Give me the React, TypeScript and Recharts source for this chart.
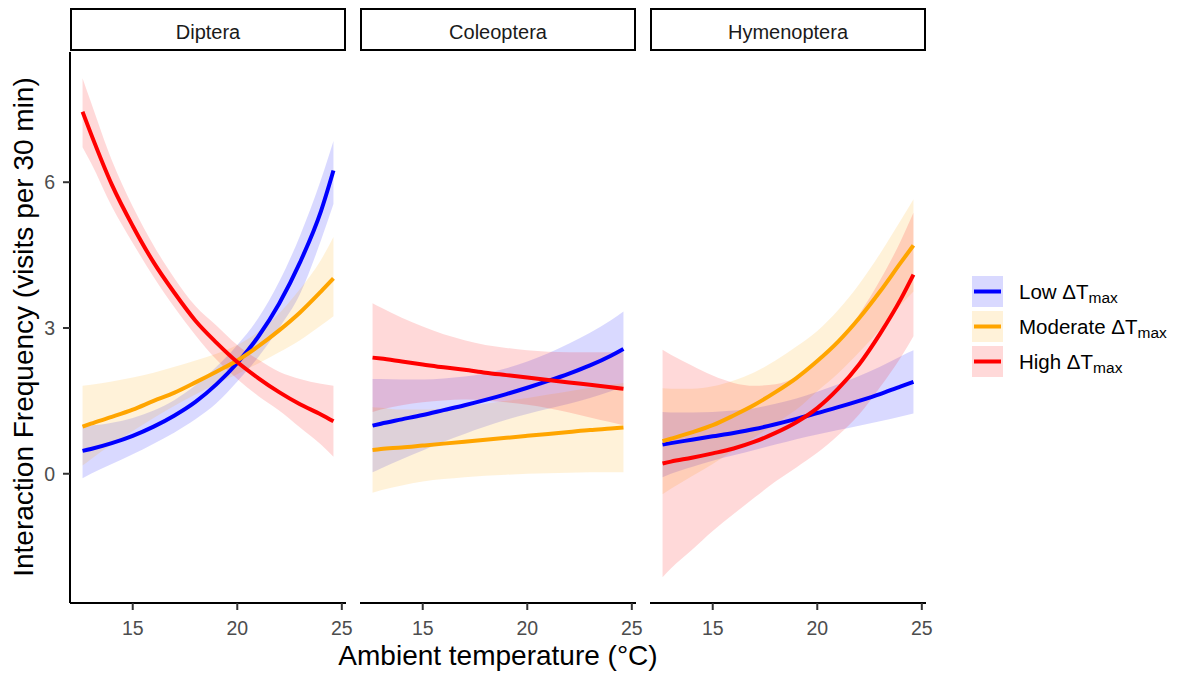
import React from 'react'
import { ComposedChart, Area, Line, XAxis, YAxis } from 'recharts'

// ambient temperature grid (°C) shared by all panels
const temps = [12.6, 13, 14, 15, 16, 17, 18, 19, 20, 21, 22, 23, 24, 24.6]

// Diptera
const dipLowFit = [0.47, 0.51, 0.63, 0.78, 0.97, 1.2, 1.48, 1.84, 2.28, 2.82, 3.5, 4.35, 5.4, 6.24]
const dipLowLo = [-0.09, 0.0, 0.2, 0.4, 0.62, 0.85, 1.12, 1.45, 1.9, 2.4, 3.0, 3.7, 4.8, 5.55]
const dipLowHi = [1.0, 1.0, 1.05, 1.15, 1.3, 1.52, 1.82, 2.2, 2.65, 3.2, 3.95, 4.9, 6.05, 6.85]
const dipModFit = [0.97, 1.03, 1.17, 1.32, 1.5, 1.67, 1.88, 2.1, 2.33, 2.62, 2.95, 3.32, 3.75, 4.02]
const dipModLo = [0.17, 0.3, 0.6, 0.88, 1.15, 1.4, 1.63, 1.85, 2.05, 2.27, 2.5, 2.75, 3.05, 3.24]
const dipModHi = [1.81, 1.83, 1.9, 1.98, 2.08, 2.2, 2.33, 2.47, 2.65, 2.92, 3.3, 3.8, 4.4, 4.87]
const dipHighFit = [7.45, 7.0, 5.95, 5.1, 4.35, 3.72, 3.15, 2.7, 2.3, 1.97, 1.68, 1.43, 1.22, 1.08]
const dipHighLo = [6.72, 6.4, 5.5, 4.75, 4.05, 3.42, 2.85, 2.35, 1.95, 1.6, 1.3, 0.95, 0.6, 0.35]
const dipHighHi = [8.14, 7.65, 6.45, 5.5, 4.7, 4.02, 3.45, 3.05, 2.65, 2.35, 2.1, 1.95, 1.85, 1.81]

// Coleoptera
const colLowFit = [0.99, 1.03, 1.12, 1.21, 1.31, 1.41, 1.52, 1.64, 1.77, 1.91, 2.06, 2.23, 2.43, 2.57]
const colLowLo = [0.03, 0.11, 0.3, 0.48, 0.66, 0.82, 0.97, 1.11, 1.23, 1.34, 1.44, 1.56, 1.7, 1.8]
const colLowHi = [1.95, 1.95, 1.94, 1.94, 1.96, 2.0, 2.07, 2.17, 2.31, 2.48, 2.68, 2.9, 3.16, 3.34]
const colModFit = [0.49, 0.51, 0.54, 0.58, 0.62, 0.66, 0.7, 0.74, 0.78, 0.82, 0.86, 0.9, 0.93, 0.95]
const colModLo = [-0.39, -0.34, -0.24, -0.16, -0.11, -0.07, -0.04, -0.02, 0.0, 0.01, 0.02, 0.03, 0.03, 0.03]
const colModHi = [1.37, 1.36, 1.32, 1.32, 1.35, 1.39, 1.44, 1.5, 1.56, 1.63, 1.7, 1.77, 1.83, 1.87]
const colHighFit = [2.39, 2.37, 2.31, 2.25, 2.19, 2.14, 2.08, 2.03, 1.98, 1.93, 1.88, 1.83, 1.78, 1.75]
const colHighLo = [1.27, 1.32, 1.41, 1.47, 1.51, 1.53, 1.51, 1.47, 1.42, 1.35, 1.26, 1.16, 1.06, 1.0]
const colHighHi = [3.51, 3.42, 3.21, 3.03, 2.87, 2.75, 2.65, 2.59, 2.54, 2.51, 2.5, 2.5, 2.5, 2.5]

// Hymenoptera
const hymLowFit = [0.6, 0.63, 0.7, 0.77, 0.84, 0.92, 1.02, 1.13, 1.25, 1.37, 1.5, 1.64, 1.8, 1.89]
const hymLowLo = [-0.07, 0.0, 0.14, 0.27, 0.38, 0.49, 0.6, 0.71, 0.81, 0.9, 0.99, 1.08, 1.18, 1.24]
const hymLowHi = [1.27, 1.26, 1.26, 1.27, 1.3, 1.35, 1.44, 1.55, 1.69, 1.84, 2.01, 2.2, 2.42, 2.54]
const hymModFit = [0.67, 0.72, 0.85, 1.0, 1.2, 1.42, 1.68, 1.97, 2.32, 2.72, 3.2, 3.75, 4.35, 4.7]
const hymModLo = [-0.42, -0.31, -0.05, 0.2, 0.48, 0.75, 1.03, 1.32, 1.7, 2.07, 2.5, 2.97, 3.48, 3.75]
const hymModHi = [1.76, 1.75, 1.75, 1.8, 1.92, 2.09, 2.33, 2.62, 2.94, 3.37, 3.9, 4.53, 5.22, 5.65]
const hymHighFit = [0.21, 0.25, 0.33, 0.42, 0.52, 0.66, 0.84, 1.06, 1.35, 1.75, 2.25, 2.88, 3.6, 4.1]
const hymHighLo = [-2.13, -1.95, -1.57, -1.18, -0.83, -0.49, -0.16, 0.13, 0.43, 0.79, 1.22, 1.78, 2.4, 2.83]
const hymHighHi = [2.55, 2.45, 2.23, 2.02, 1.87, 1.81, 1.84, 1.99, 2.27, 2.71, 3.28, 3.98, 4.8, 5.37]

const facets = ['Diptera', 'Coleoptera', 'Hymenoptera']
const xTicks = [15, 20, 25]
const yTicks = [0, 3, 6]

const LOW = '#0000FF'
const MOD = '#FFA500'
const HIGH = '#FF0000'

const PANEL_W = 276
const PANEL_H = 551
const PANEL_TOP = 52
const RIGHT_PAD = 14
const panelLefts = [70, 360, 650]
const FONT = '"Liberation Sans", Arial, Helvetica, sans-serif'

function buildRows(
  lowFit: number[], lowLo: number[], lowHi: number[],
  modFit: number[], modLo: number[], modHi: number[],
  highFit: number[], highLo: number[], highHi: number[]
) {
  return temps.map((t, i) => ({
    t,
    lowFit: lowFit[i],
    lowBand: [lowLo[i], lowHi[i]],
    modFit: modFit[i],
    modBand: [modLo[i], modHi[i]],
    highFit: highFit[i],
    highBand: [highLo[i], highHi[i]],
  }))
}

const panelRows = [
  buildRows(dipLowFit, dipLowLo, dipLowHi, dipModFit, dipModLo, dipModHi, dipHighFit, dipHighLo, dipHighHi),
  buildRows(colLowFit, colLowLo, colLowHi, colModFit, colModLo, colModHi, colHighFit, colHighLo, colHighHi),
  buildRows(hymLowFit, hymLowLo, hymLowHi, hymModFit, hymModLo, hymModHi, hymHighFit, hymHighLo, hymHighHi),
]

const tickStyle = { fill: '#4D4D4D', fontSize: 19.5, fontFamily: FONT }

function Panel({ rows, left, showY }: { rows: any[]; left: number; showY: boolean }) {
  const yW = showY ? 70 : 0
  return (
    <div style={{ position: 'absolute', left: left - yW, top: PANEL_TOP }}>
      <ComposedChart
        width={PANEL_W + yW + RIGHT_PAD}
        height={PANEL_H + 45}
        data={rows}
        margin={{ top: 0, right: RIGHT_PAD, bottom: 0, left: 0 }}
      >
        <XAxis
          dataKey="t"
          type="number"
          domain={[12, 25.2]}
          ticks={xTicks}
          interval={0}
          height={45}
          tick={tickStyle}
          tickSize={7}
          tickMargin={11}
          axisLine={{ stroke: '#000', strokeWidth: 2 }}
          tickLine={{ stroke: '#333', strokeWidth: 2 }}
        />
        <YAxis
          type="number"
          domain={[-2.66, 8.68]}
          ticks={yTicks}
          interval={0}
          hide={!showY}
          width={yW}
          tick={tickStyle}
          tickSize={7}
          tickMargin={8}
          axisLine={{ stroke: '#000', strokeWidth: 2 }}
          tickLine={{ stroke: '#333', strokeWidth: 2 }}
        />
        <Area dataKey="lowBand" type="monotone" stroke="none" fill={LOW} fillOpacity={0.15} isAnimationActive={false} activeDot={false} />
        <Area dataKey="modBand" type="monotone" stroke="none" fill={MOD} fillOpacity={0.15} isAnimationActive={false} activeDot={false} />
        <Area dataKey="highBand" type="monotone" stroke="none" fill={HIGH} fillOpacity={0.15} isAnimationActive={false} activeDot={false} />
        <Line dataKey="lowFit" type="monotone" stroke={LOW} strokeWidth={4} dot={false} isAnimationActive={false} activeDot={false} />
        <Line dataKey="modFit" type="monotone" stroke={MOD} strokeWidth={4} dot={false} isAnimationActive={false} activeDot={false} />
        <Line dataKey="highFit" type="monotone" stroke={HIGH} strokeWidth={4} dot={false} isAnimationActive={false} activeDot={false} />
      </ComposedChart>
    </div>
  )
}

const legendItems = [
  { label: 'Low', color: LOW },
  { label: 'Moderate', color: MOD },
  { label: 'High', color: HIGH },
]

export default function App() {
  return (
    <div style={{ position: 'absolute', left: 0, top: 0, width: 1189, height: 675, background: '#fff', fontFamily: FONT }}>
      <svg width={1189} height={675} style={{ position: 'absolute', left: 0, top: 0 }}>
        {facets.map((name, i) => (
          <g key={name}>
            <rect x={panelLefts[i] + 1} y={9} width={PANEL_W - 2} height={41} fill="#fff" stroke="#000" strokeWidth={2} />
            <text x={panelLefts[i] + PANEL_W / 2} y={39} textAnchor="middle" fontSize={20} fill="#1A1A1A">{name}</text>
          </g>
        ))}
        <text transform="translate(33, 327) rotate(-90)" textAnchor="middle" fontSize={28} fill="#000">
          Interaction Frequency (visits per 30 min)
        </text>
        <text x={498} y={665} textAnchor="middle" fontSize={28} fill="#000">Ambient temperature (°C)</text>
        {legendItems.map((it, i) => {
          const top = 276 + i * 35
          return (
            <g key={it.label}>
              <rect x={972} y={top} width={31} height={31} fill={it.color} fillOpacity={0.15} />
              <line x1={974} x2={1001} y1={top + 15.5} y2={top + 15.5} stroke={it.color} strokeWidth={4} />
              <text x={1019} y={top + 23} fontSize={20.5} fill="#000">
                {it.label} ΔT<tspan dy={4} fontSize={15.5}>max</tspan>
              </text>
            </g>
          )
        })}
      </svg>
      {panelRows.map((rows, i) => (
        <Panel key={facets[i]} rows={rows} left={panelLefts[i]} showY={i === 0} />
      ))}
    </div>
  )
}
